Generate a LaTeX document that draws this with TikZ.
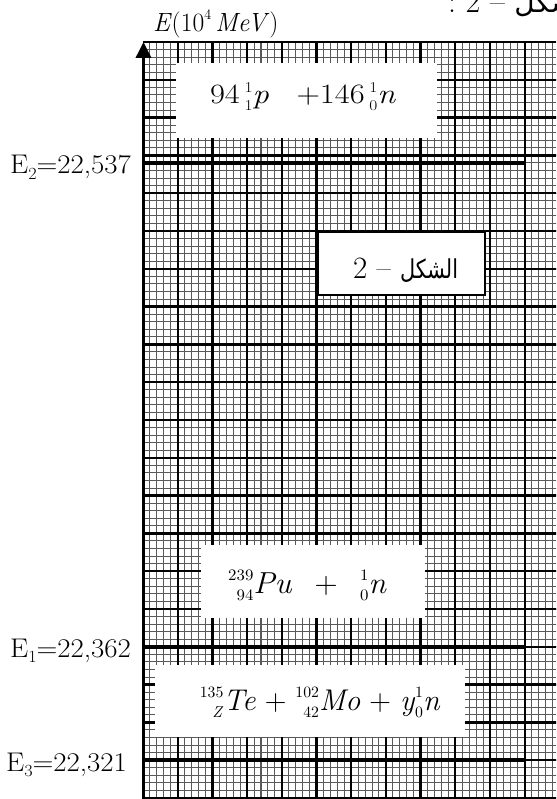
\documentclass[tikz,border=0pt]{standalone}
\usepackage{fontspec}
\usetikzlibrary{arrows.meta}
\newfontfamily\arabicfont[Script=Arabic]{DejaVu Sans}
\TeXXeTstate=1
\newcommand{\scrsize}{\fontsize{10.5}{10.5}\selectfont}
\newcommand{\pre}[2]{{\setbox0=\hbox{\scrsize #1}\setbox2=\hbox{\scrsize #2}%
 \dimen0=\wd0 \ifdim\wd2>\dimen0 \dimen0=\wd2\fi
 \hbox to\dimen0{\hfil\raise0.42em\box0\llap{\lower0.25em\box2}}}}
% serif text set at 20pt and scaled
\newcommand{\tx}[3]{\scalebox{#1}[#2]{\fontsize{20}{24}\selectfont #3}}
\newcommand{\elab}[2]{\scalebox{1.07}[1]{\fontsize{27}{27}\selectfont E\lower0.2em\hbox{\fontsize{17}{17}\selectfont #1}=#2}}
\tikzset{
  minor/.style={line width=1.05pt, black!65},
  major/.style={line width=2.3pt, black},
  level/.style={line width=4pt, black},
  axisline/.style={line width=3.5pt, black, -{Triangle[length=16pt,width=15pt]}},
  whitebox/.style={fill=white},
  lbl/.style={inner sep=0pt, outer sep=0pt},
}
\begin{document}
\begin{tikzpicture}[x=1pt,y=-1pt]
\clip (0,0) rectangle (556,799);
\fill[white] (0,0) rectangle (556,799);
% grid minor
\foreach \i in {1,...,59} {\draw[minor] ({143+\i*6.94},42) -- ({143+\i*6.94},798);}
\foreach \j in {1,...,99} {\draw[minor] (143,{42+\j*7.56}) -- (560,{42+\j*7.56});}
% grid major
\foreach \i in {1,...,12} {\draw[major] ({143+\i*34.7},42) -- ({143+\i*34.7},798);}
\foreach \j in {0,...,20} {\draw[major] (143,{42+\j*37.8}) -- (560,{42+\j*37.8});}
% level lines
\coordinate (e2a) at (143,162.96); \coordinate (e2b) at (524,162.96);
\coordinate (e1a) at (143,646.8);  \coordinate (e1b) at (524,646.8);
\coordinate (e3a) at (143,760.2);  \coordinate (e3b) at (524,760.2);
\draw[level] (e2a) -- (e2b);
\draw[level] (e1a) -- (e1b);
\draw[level] (e3a) -- (e3b);
% white boxes
\fill[whitebox] (176,63) rectangle (437,138);
\fill[whitebox] (201,545) rectangle (425,618);
\fill[whitebox] (155,665) rectangle (465,737);
\filldraw[fill=white, draw=black, line width=2.5pt] (318,232) rectangle (485,295);
% axis
\coordinate (axbot) at (143.5,799);
\coordinate (axtop) at (143.5,42);
\draw[axisline] (axbot) -- (axtop);
% texts
\node[lbl, anchor=base west] (ylab) at (153,31.5) {\tx{1.28}{1.32}{\textit{E}(10\raise0.45em\hbox{\fontsize{11}{11}\selectfont 4}\,\textit{MeV})}};
\node[lbl, anchor=base west] (topcut) at (448,13) {\tx{1.6}{1.6}{:\ 2 –\ }{\arabicfont\fontsize{28}{28}\selectfont\beginR الشكل\endR}};
\node[lbl, anchor=base east] (E2) at (131,174) {\elab{2}{22,537}};
\node[lbl, anchor=base east] (E1) at (131,657.5) {\elab{1}{22,362}};
\node[lbl, anchor=base east] (E3) at (127,771) {\elab{3}{22,321}};
\node[lbl, anchor=base] (r1) at (303,104) {\scalebox{1.16}[1]{\fontsize{28}{28}\selectfont\def\scrsize{\fontsize{15}{15}\selectfont}94\hspace{4pt}\pre{1}{1}\textit{p}\hspace{24pt}+146\hspace{4pt}\pre{1}{0}\textit{n}}};
\node[lbl, anchor=base] (r2) at (307.5,593) {\tx{1.6}{1.52}{\pre{239}{94}\textit{Pu}\hspace{0.7em}+\hspace{0.7em}\pre{1}{0}\textit{n}}};
\node[lbl, anchor=base] (r3) at (320,710) {\tx{1.5}{1.5}{\pre{135}{\textit{Z}}\textit{Te}\hspace{0.3em}+\hspace{0.3em}\pre{102}{42}\textit{Mo}\hspace{0.3em}+\hspace{0.3em}\textit{y}\pre{1}{0}\textit{n}}};
\node[lbl, anchor=base west] (fig) at (353,278) {\tx{1.55}{1.55}{2 –\ }\scalebox{0.8}[1]{\arabicfont\fontsize{26}{26}\selectfont\beginR الشكل\endR}};
\end{tikzpicture}
\end{document}
